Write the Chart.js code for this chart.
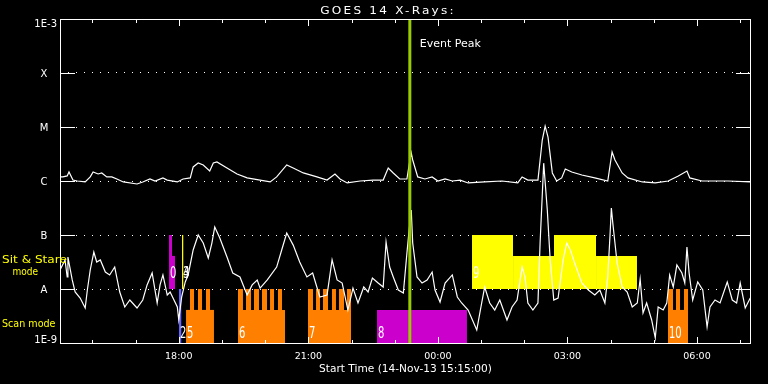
<!DOCTYPE html>
<html lang="en">
<head>
    <meta charset="UTF-8">
    <title>GOES 14 X-Rays</title>
    <script src="https://cdn.jsdelivr.net/npm/chart.js"></script>
    <style>
        html, body { margin: 0; padding: 0; background: #000; }
        #wrap { width: 768px; height: 384px; }
    </style>
</head>
<body>
<div id="wrap"><canvas id="goesChart" width="768" height="384"></canvas></div>
<script>
    // times are minutes after the start time (14-Nov-13 15:15:00), flux in W/m^2
    const longTime = [0, 4, 10, 12.5, 18, 24, 35, 42, 46, 53, 58, 65, 72, 79, 88, 107, 115, 125, 132, 143,
        149, 163, 171, 181, 185, 192, 199, 208, 213, 218, 232, 246, 260, 278, 292, 301, 315, 324, 338, 357,
        371, 382, 389, 399, 417, 435, 449, 456, 463, 472, 482, 485, 488, 490, 497, 507, 517, 525, 535, 545,
        556, 567, 590, 614, 636, 642, 650, 664, 670, 674, 678, 684, 690, 697, 702, 711, 725, 743, 761, 767,
        771, 781, 789, 809, 827, 845, 859, 871, 875, 892, 928, 959];
    const longFlux = [1.19e-6, 1.19e-6, 1.24e-6, 1.47e-6, 1.04e-6, 1.00e-6, 0.96e-6, 1.19e-6, 1.47e-6, 1.35e-6,
        1.41e-6, 1.19e-6, 1.19e-6, 1.09e-6, 0.96e-6, 0.88e-6, 0.96e-6, 1.09e-6, 1.00e-6, 1.14e-6,
        1.04e-6, 0.96e-6, 1.09e-6, 1.14e-6, 1.82e-6, 2.15e-6, 1.98e-6, 1.53e-6, 2.15e-6, 2.25e-6,
        1.74e-6, 1.35e-6, 1.14e-6, 1.04e-6, 0.96e-6, 1.19e-6, 1.98e-6, 1.74e-6, 1.41e-6, 1.19e-6,
        1.04e-6, 1.35e-6, 1.09e-6, 0.92e-6, 1.00e-6, 1.04e-6, 1.04e-6, 1.74e-6, 1.41e-6, 1.09e-6,
        1.09e-6, 1.98e-6, 3.30e-6, 2.45e-6, 1.19e-6, 1.09e-6, 1.19e-6, 1.00e-6, 1.09e-6, 1.00e-6,
        1.04e-6, 0.92e-6, 0.96e-6, 1.00e-6, 0.92e-6, 1.19e-6, 1.04e-6, 1.04e-6, 5.74e-6, 1.04e-5,
        6.5e-6, 1.41e-6, 1.00e-6, 1.14e-6, 1.67e-6, 1.47e-6, 1.29e-6, 1.14e-6, 1.00e-6, 3.45e-6,
        2.45e-6, 1.41e-6, 1.14e-6, 0.96e-6, 0.92e-6, 1.00e-6, 1.24e-6, 1.53e-6, 1.14e-6, 1.00e-6,
        1.00e-6, 0.96e-6];

    const shortTime = [0, 7, 10, 11, 17, 21, 28, 35, 38, 42, 47, 51, 56, 63, 69, 76, 83, 90, 97, 107,
        115, 121, 128, 135, 139, 143, 149, 153, 157, 163, 165, 169, 174, 178, 185, 192, 199, 206, 211, 215,
        222, 232, 240, 250, 260, 267, 274, 278, 288, 301, 308, 315, 324, 333, 343, 351, 361, 371, 378, 385,
        392, 400, 407, 414, 422, 428, 434, 442, 449, 453, 458, 463, 470, 477, 482, 485, 488, 490, 496, 503,
        510, 517, 521, 528, 535, 545, 552, 558, 567, 579, 584, 590, 597, 604, 611, 621, 628, 635, 642, 646,
        650, 657, 664, 667, 672, 677, 681, 686, 692, 699, 704, 709, 715, 725, 734, 743, 750, 757, 761, 764,
        766, 768, 774, 781, 788, 795, 802, 806, 810, 815, 822, 827, 831, 838, 843, 847, 852, 857, 864, 868,
        871, 874, 879, 886, 893, 899, 903, 910, 917, 927, 934, 940, 945, 952, 959];
    const shortFlux = [2.25e-8, 3.45e-8, 1.67e-8, 3.91e-8, 1.47e-8, 0.88e-8, 0.681e-8, 0.445e-8, 0.958e-8, 2.25e-8,
        4.84e-8, 3.16e-8, 3.45e-8, 2.06e-8, 1.82e-8, 2.55e-8, 0.88e-8, 0.464e-8, 0.625e-8, 0.445e-8,
        0.625e-8, 1.19e-8, 1.98e-8, 0.551e-8, 1.19e-8, 1.82e-8, 0.774e-8, 0.88e-8, 0.681e-8, 0.464e-8,
        0.267e-8, 0.711e-8, 1.35e-8, 1.82e-8, 5.28e-8, 1.0e-7, 7.1e-8, 3.75e-8, 7.1e-8, 1.41e-7,
        8.8e-8, 3.91e-8, 1.98e-8, 1.67e-8, 0.774e-8, 1.19e-8, 1.47e-8, 1.04e-8, 1.47e-8, 2.55e-8,
        5.28e-8, 1.09e-7, 6.5e-8, 3.16e-8, 1.67e-8, 1.98e-8, 0.711e-8, 0.774e-8, 3.45e-8, 1.47e-8,
        1.29e-8, 0.408e-8, 1.04e-8, 0.551e-8, 1.09e-8, 0.88e-8, 1.6e-8, 1.29e-8, 1.09e-8, 7.4e-8,
        2.55e-8, 1.67e-8, 0.958e-8, 0.843e-8, 4.64e-8, 1.24e-7, 2.9e-7, 7.1e-8, 1.67e-8, 1.29e-8,
        1.47e-8, 2.06e-8, 0.958e-8, 0.574e-8, 1.29e-8, 1.82e-8, 0.711e-8, 0.551e-8, 0.408e-8, 0.174e-8,
        0.408e-8, 1.09e-8, 0.551e-8, 0.408e-8, 0.625e-8, 0.267e-8, 0.464e-8, 0.625e-8, 2.55e-8, 1.67e-8,
        0.551e-8, 0.408e-8, 0.551e-8, 7.1e-8, 2.14e-6, 2.9e-7, 3.45e-8, 0.625e-8, 0.681e-8, 3.45e-8,
        7.1e-8, 5.28e-8, 3.03e-8, 1.29e-8, 0.958e-8, 0.774e-8, 0.958e-8, 0.551e-8, 1.67e-8, 9.2e-8,
        3.17e-7, 1.67e-7, 3.03e-8, 1.09e-8, 0.88e-8, 0.464e-8, 0.551e-8, 1.53e-8, 0.36e-8, 0.551e-8,
        0.267e-8, 0.124e-8, 0.464e-8, 0.408e-8, 0.551e-8, 1.82e-8, 1.09e-8, 2.78e-8, 1.98e-8, 1.29e-8,
        5.98e-8, 1.98e-8, 0.625e-8, 1.35e-8, 0.958e-8, 0.198e-8, 0.464e-8, 0.625e-8, 0.551e-8, 1.35e-8,
        0.625e-8, 0.551e-8, 1.29e-8, 0.445e-8, 0.681e-8];

    const eventPeakTime = 486;

    // sit & stare observation windows (upper band)
    const stareStart = [151.4, 155.6, 169.5, 572.4, 629.4, 686.3, 744.7];
    const stareEnd = [155.6, 159.8, 171.6, 629.4, 686.3, 744.7, 801.6];
    const stareTop = [1e-7, 4.1e-8, 1e-7, 1e-7, 4.1e-8, 1e-7, 4.1e-8];
    const stareGroup = [1, 1, 3, 9, 9, 9, 9];

    // scan observation windows (lower band)
    const scanStart = [165.3, 175.1, 180.6, 191.7, 202.8,
        247.3, 247.3, 258.4, 269.5, 280.6, 291.8, 302.9,
        344.5, 344.5, 355.7, 365.4, 377.9, 387.6, 398.7,
        440.4, 844.7, 844.7, 855.8, 866.9];
    const scanEnd = [168.8, 213.9, 186.2, 197.3, 208.4,
        312.6, 254.2, 265.4, 276.5, 287.6, 297.3, 308.4,
        404.3, 351.5, 361.2, 372.3, 383.4, 394.6, 404.3,
        565.4, 872.5, 851.6, 861.4, 872.5];
    const scanTop = [1e-8, 4.1e-9, 1e-8, 1e-8, 1e-8,
        4.1e-9, 1e-8, 1e-8, 1e-8, 1e-8, 1e-8, 1e-8,
        4.1e-9, 1e-8, 1e-8, 1e-8, 1e-8, 1e-8, 1e-8,
        4.1e-9, 4.1e-9, 1e-8, 1e-8, 1e-8];
    const scanGroup = [2, 5, 5, 5, 5, 6, 6, 6, 6, 6, 6, 6, 7, 7, 7, 7, 7, 7, 7, 8, 10, 10, 10, 10];

    const obsLabels = ['0', '2', '3', '4', '5', '6', '7', '8', '9', '10'];
    const obsLabelTime = [151.4, 165.3, 169.5, 169.5, 175.1, 247.3, 344.5, 440.4, 572.4, 844.7];
    const obsLabelMode = ['stare', 'scan', 'stare', 'stare', 'scan', 'scan', 'scan', 'scan', 'stare', 'scan'];

    const yTickValues = [1e-9, 1e-8, 1e-7, 1e-6, 1e-5, 1e-4, 1e-3];
    const yTickLabels = ['1E-9', 'A', 'B', 'C', 'M', 'X', '1E-3'];
    const hourTicks = [45, 105, 165, 225, 285, 345, 405, 465, 525, 585, 645, 705, 765, 825, 885, 945];
    const xTickTimes = [165, 345, 525, 705, 885];
    const xTickLabels = ['18:00', '21:00', '00:00', '03:00', '06:00'];

    const groupColors = {1: '#cc00cc', 2: '#6464ff', 3: '#ffff00', 5: '#ff8000', 6: '#ff8000',
        7: '#ff8000', 8: '#cc00cc', 9: '#ffff00', 10: '#ff8000'};

    function blockSet(t0, t1, top, base, color) {
        return {
            data: [{x: t0, y: top}, {x: t1, y: top}],
            borderWidth: 0,
            backgroundColor: color,
            fill: {value: base},
            pointRadius: 0,
            order: 1
        };
    }

    const datasets = [
        {
            label: 'long',
            data: longTime.map((t, i) => ({x: t, y: longFlux[i]})),
            borderColor: '#ffffff', borderWidth: 1.2, pointRadius: 0, fill: false, order: 0
        },
        {
            label: 'short',
            data: shortTime.map((t, i) => ({x: t, y: shortFlux[i]})),
            borderColor: '#ffffff', borderWidth: 1.2, pointRadius: 0, fill: false, order: 0
        },
        {
            label: 'peak',
            data: [{x: eventPeakTime, y: 1e-9}, {x: eventPeakTime, y: 1e-3}],
            borderColor: '#99cc00', borderWidth: 3, pointRadius: 0, fill: false, order: -1
        }
    ];
    stareStart.forEach((s, i) => datasets.push(blockSet(s, stareEnd[i], stareTop[i], 1e-8, groupColors[stareGroup[i]])));
    scanStart.forEach((s, i) => datasets.push(blockSet(s, scanEnd[i], scanTop[i], 1e-9, groupColors[scanGroup[i]])));

    function txt(ctx, str, x, y, opt) {
        opt = opt || {};
        ctx.save();
        ctx.translate(x, y);
        ctx.scale(opt.sx || 1, opt.sy || 1);
        ctx.font = (opt.size || 10) + 'px "DejaVu Sans"';
        ctx.fillStyle = opt.color || '#ffffff';
        ctx.textAlign = opt.align || 'left';
        ctx.textBaseline = 'alphabetic';
        if (opt.spacing) ctx.letterSpacing = opt.spacing + 'px';
        ctx.fillText(str, 0, 0);
        ctx.restore();
    }

    const goesDecor = {
        id: 'goesDecor',
        beforeDraw(chart) {
            const ctx = chart.ctx;
            ctx.save();
            ctx.fillStyle = '#000';
            ctx.fillRect(0, 0, chart.width, chart.height);
            ctx.restore();
        },
        afterDraw(chart) {
            const {ctx, chartArea: a, scales: {x, y}} = chart;
            ctx.save();
            ctx.strokeStyle = '#ffffff';
            ctx.lineWidth = 1;
            ctx.strokeRect(a.left + 0.5, a.top + 0.5, a.right - a.left - 1, a.bottom - a.top);

            ctx.beginPath();
            yTickValues.slice(1, -1).forEach(v => {
                const py = Math.round(y.getPixelForValue(v)) + 0.5;
                ctx.moveTo(a.left, py); ctx.lineTo(a.left + 15, py);
                ctx.moveTo(a.right - 15, py); ctx.lineTo(a.right, py);
            });
            hourTicks.forEach(t => {
                const px = Math.round(x.getPixelForValue(t)) + 0.5;
                const len = xTickTimes.includes(t) ? 7 : 4;
                ctx.moveTo(px, a.top); ctx.lineTo(px, a.top + len);
                ctx.moveTo(px, a.bottom + 1); ctx.lineTo(px, a.bottom + 1 - len);
            });
            ctx.stroke();
            ctx.restore();

            // axis labels
            yTickValues.forEach((v, i) => {
                const py = y.getPixelForValue(v);
                if (i === 0) txt(ctx, yTickLabels[i], 57, py, {align: 'right'});
                else if (i === yTickValues.length - 1) txt(ctx, yTickLabels[i], 57, py + 7.5, {align: 'right'});
                else txt(ctx, yTickLabels[i], 44, py + 3.7, {align: 'center'});
            });
            xTickTimes.forEach((t, i) => {
                txt(ctx, xTickLabels[i], x.getPixelForValue(t), 358.5, {align: 'center', size: 9.5});
            });
            txt(ctx, 'Start Time (14-Nov-13 15:15:00)', (a.left + a.right) / 2, 372, {align: 'center', sx: 1.06});
            txt(ctx, 'GOES 14 X-Rays:', 388, 13.5, {align: 'center', size: 11, spacing: 2, sx: 1.1});
            txt(ctx, 'Event Peak', x.getPixelForValue(eventPeakTime) + 10, 47, {size: 11});

            txt(ctx, 'Sit & Stare', 2, 263, {size: 11, sx: 1.1, color: '#ffff00'});
            txt(ctx, 'mode', 12.5, 275, {size: 11, sx: 0.82, color: '#ffff00'});
            txt(ctx, 'Scan mode', 2, 327, {size: 11, sx: 0.87, color: '#ffff00'});

            obsLabels.forEach((lab, i) => {
                const px = x.getPixelForValue(obsLabelTime[i]) + 1;
                const py = obsLabelMode[i] === 'stare' ? y.getPixelForValue(1e-8) - 11.2 : a.bottom - 4.7;
                txt(ctx, lab, px, py, {sy: 1.6});
            });
        }
    };

    new Chart(document.getElementById('goesChart'), {
        type: 'line',
        data: {datasets: datasets},
        options: {
            responsive: false,
            animation: false,
            devicePixelRatio: 1,
            layout: {padding: {top: 19, right: 17, left: 0, bottom: 0}},
            plugins: {legend: {display: false}, tooltip: {enabled: false}, title: {display: false}},
            elements: {line: {tension: 0}},
            scales: {
                x: {
                    type: 'linear', min: 0, max: 960,
                    grid: {display: false}, border: {display: false},
                    ticks: {display: false},
                    afterFit(s) { s.height = 41; }
                },
                y: {
                    type: 'logarithmic', min: 1e-9, max: 1e-3,
                    afterBuildTicks(s) { s.ticks = yTickValues.map(v => ({value: v})); },
                    grid: {color: '#ffffff', lineWidth: 1, drawTicks: false},
                    border: {display: false, dash: [1, 7]},
                    ticks: {display: false},
                    afterFit(s) { s.width = 60; }
                }
            }
        },
        plugins: [goesDecor]
    });
</script>
</body>
</html>
